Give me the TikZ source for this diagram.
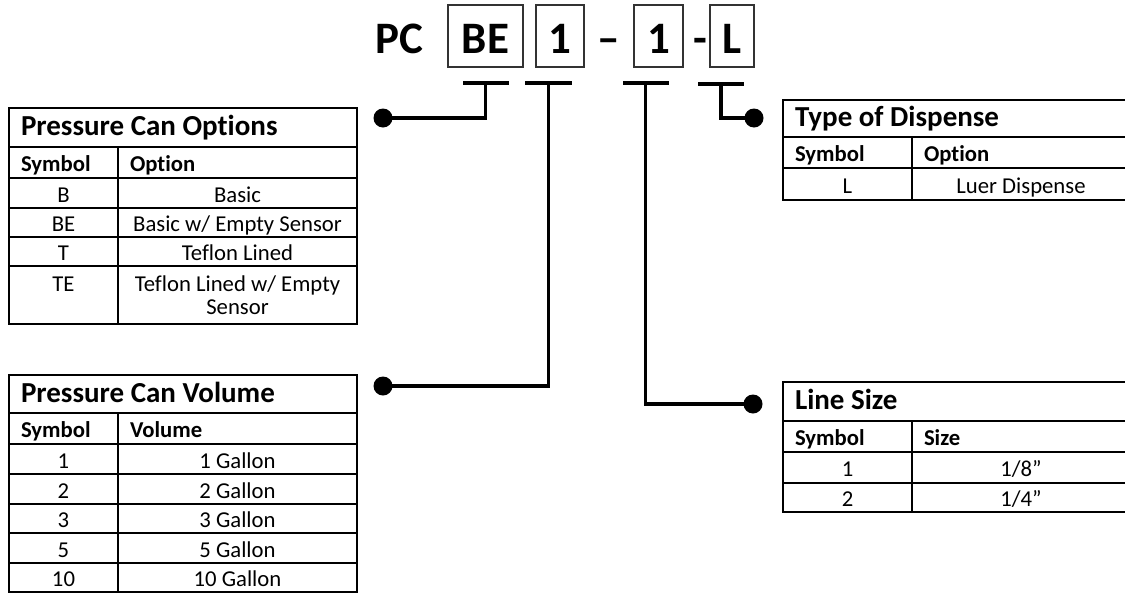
\documentclass[tikz,border=0pt]{standalone}
\usepackage{fontspec}
\setmainfont{Carlito}[Ligatures={TeX,NoCommon}]
\usetikzlibrary{positioning}

\begin{document}
\begin{tikzpicture}[x=1pt, y=-1pt,
  code/.style={font=\bfseries\fontsize{45}{50}\selectfont, text height=34pt, text depth=0pt, inner sep=0pt},
  codebox/.style={code, draw=black!80, line width=1.3pt, minimum height=62pt},
  tbar/.style={fill, inner sep=0pt, minimum height=3.3pt},
  link/.style={line width=3.3pt},
  dot/.style={circle, fill, inner sep=0pt, minimum size=19pt},
  cell/.style={draw, line width=1.6pt, outer sep=0pt, inner sep=0pt,
    font=\fontsize{22.7}{22.5}\selectfont, text height=18pt, text depth=0pt},
  twoline/.style={draw, line width=1.6pt, outer sep=0pt, inner sep=0pt,
    font=\fontsize{22.7}{22.5}\selectfont, align=center, minimum height=58pt},
  head/.style={cell, font=\bfseries\fontsize{22.7}{27}\selectfont, minimum height=31pt,
    inner xsep=12pt, align=flush left},
  tabtitle/.style={cell, font=\bfseries\fontsize{29}{33}\selectfont, text height=16pt,
    inner xsep=12pt, align=flush left},
]
\useasboundingbox (0,0) rectangle (1125,592);
\clip (0,0) rectangle (1125,592);

% part number
\node[code] (pc) at (399,36) {PC};
\node[codebox, minimum width=75pt] (cOpt) at (485.5,36) {BE};
\node[codebox, minimum width=48pt] (cVol) at (560,36) {1};
\node[code] (dash1) at (609,36) {–};
\node[codebox, minimum width=49pt] (cLine) at (658.5,36) {1};
\node[code] (dash2) at (700,36) {-};
\node[codebox, minimum width=44pt] (cDisp) at (732,36) {L};

% tee bars and dots
\node[tbar, minimum width=46pt] (tOpt) at (485.5,83) {};
\node[tbar, minimum width=47pt] (tVol) at (548.5,83) {};
\node[tbar, minimum width=46pt] (tLine) at (645.5,83) {};
\node[tbar, minimum width=46pt] (tDisp) at (721,84) {};
\node[dot] (dOpt) at (383,118) {};
\node[dot] (dVol) at (383,386) {};
\node[dot] (dLine) at (753,404) {};
\node[dot] (dDisp) at (754,118) {};
\draw[link] (tOpt.center) |- (dOpt.center);
\draw[link] (tVol.center) |- (dVol.center);
\draw[link] (tLine.center) |- (dLine.center);
\draw[link] (tDisp.center) |- (dDisp.center);

% Pressure Can Options
\node[tabtitle, anchor=north west, text width=324pt, minimum height=39pt] (optT) at (9,108) {Pressure Can Options};
\node[head, anchor=north west, text width=85pt] (optHs) at (optT.south west) {Symbol};
\node[head, text width=215pt, right=0pt of optHs] (optHv) {Option};
\node[cell, minimum width=109pt, minimum height=30pt, below=0pt of optHs] (optS1) {B};
\node[cell, minimum width=239pt, minimum height=30pt, right=0pt of optS1] (optV1) {Basic};
\node[cell, minimum width=109pt, minimum height=29pt, below=0pt of optS1] (optS2) {BE};
\node[cell, minimum width=239pt, minimum height=29pt, right=0pt of optS2] (optV2) {Basic w/ Empty Sensor};
\node[cell, minimum width=109pt, minimum height=29pt, below=0pt of optS2] (optS3) {T};
\node[cell, minimum width=239pt, minimum height=29pt, right=0pt of optS3] (optV3) {Teflon Lined};
\node[twoline, minimum width=109pt, below=0pt of optS3] (optS4) {TE\\\mbox{}};
\node[twoline, minimum width=239pt, right=0pt of optS4] (optV4) {Teflon Lined w/ Empty\\Sensor};

% Pressure Can Volume
\node[tabtitle, anchor=north west, text width=324pt, minimum height=38pt] (volT) at (9,375) {Pressure Can Volume};
\node[head, anchor=north west, text width=85pt] (volHs) at (volT.south west) {Symbol};
\node[head, text width=215pt, right=0pt of volHs] (volHv) {Volume};
\node[cell, minimum width=109pt, minimum height=30pt, below=0pt of volHs] (volS1) {1};
\node[cell, minimum width=239pt, minimum height=30pt, right=0pt of volS1] (volV1) {1 Gallon};
\node[cell, minimum width=109pt, minimum height=30pt, below=0pt of volS1] (volS2) {2};
\node[cell, minimum width=239pt, minimum height=30pt, right=0pt of volS2] (volV2) {2 Gallon};
\node[cell, minimum width=109pt, minimum height=29pt, below=0pt of volS2] (volS3) {3};
\node[cell, minimum width=239pt, minimum height=29pt, right=0pt of volS3] (volV3) {3 Gallon};
\node[cell, minimum width=109pt, minimum height=30pt, below=0pt of volS3] (volS4) {5};
\node[cell, minimum width=239pt, minimum height=30pt, right=0pt of volS4] (volV4) {5 Gallon};
\node[cell, minimum width=109pt, minimum height=29pt, below=0pt of volS4] (volS5) {10};
\node[cell, minimum width=239pt, minimum height=29pt, right=0pt of volS5] (volV5) {10 Gallon};

% Type of Dispense
\node[tabtitle, anchor=north west, text width=323pt, minimum height=37pt] (dspT) at (783,100) {Type of Dispense};
\node[head, anchor=north west, text width=105pt] (dspHs) at (dspT.south west) {Symbol};
\node[head, text width=194pt, right=0pt of dspHs] (dspHv) {Option};
\node[cell, minimum width=129pt, minimum height=32pt, below=0pt of dspHs] (dspS1) {L};
\node[cell, minimum width=218pt, minimum height=32pt, right=0pt of dspS1] (dspV1) {Luer Dispense};

% Line Size
\node[tabtitle, anchor=north west, text width=323pt, minimum height=39pt] (linT) at (783,382) {Line Size};
\node[head, anchor=north west, text width=105pt] (linHs) at (linT.south west) {Symbol};
\node[head, text width=194pt, right=0pt of linHs] (linHv) {Size};
\node[cell, minimum width=129pt, minimum height=31pt, below=0pt of linHs] (linS1) {1};
\node[cell, minimum width=218pt, minimum height=31pt, right=0pt of linS1] (linV1) {1/8”};
\node[cell, minimum width=129pt, minimum height=29pt, below=0pt of linS1] (linS2) {2};
\node[cell, minimum width=218pt, minimum height=29pt, right=0pt of linS2] (linV2) {1/4”};
\end{tikzpicture}
\end{document}
